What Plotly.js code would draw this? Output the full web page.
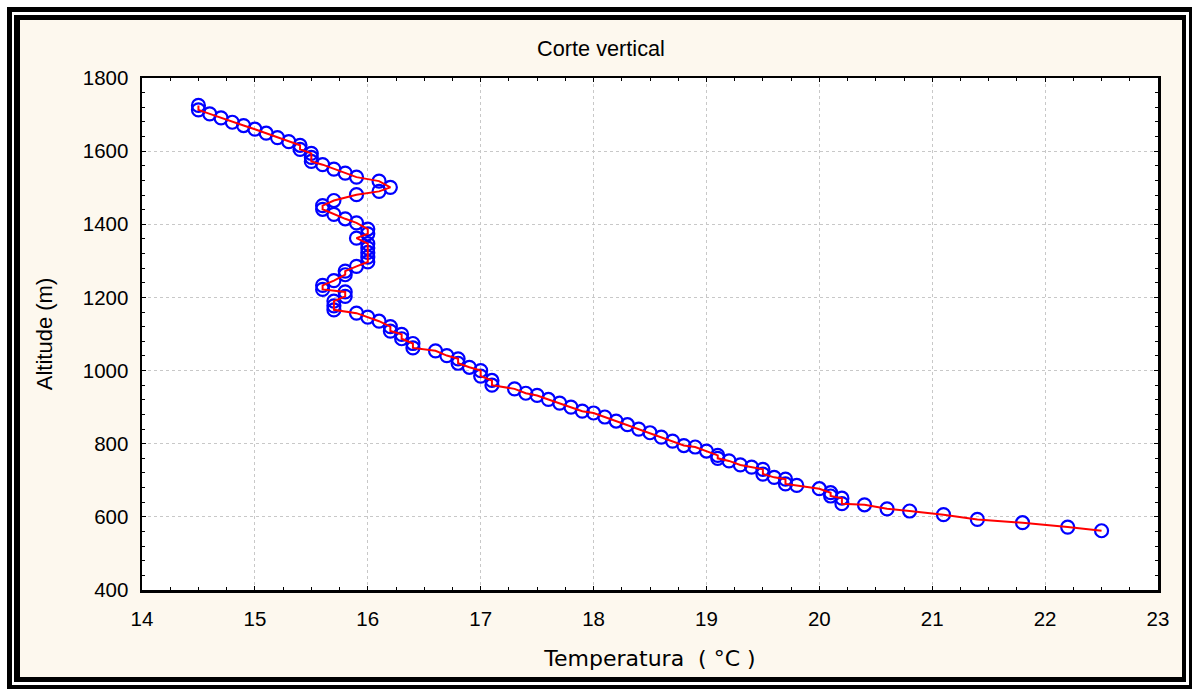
<!DOCTYPE html>
<html>
<head>
<meta charset="utf-8">
<script src="https://cdn.plot.ly/plotly-3.0.1.min.js"></script>
<style>
  html, body { margin: 0; padding: 0; background: #ffffff; width: 1192px; height: 689px; overflow: hidden; }
  #outer { position: absolute; left: 7px; top: 7px; width: 1185px; height: 682px; box-sizing: border-box;
           border-style: solid; border-color: #000; border-width: 5px 3px 4px 5px; background: #fff; }
  #inner { position: absolute; left: 14px; top: 15px; width: 1172px; height: 667px; box-sizing: border-box;
           border-style: solid; border-color: #000; border-width: 5px 4px 5px 6px; background: #fdf8ee; }
  #plot { position: absolute; left: 20px; top: 20px; width: 1162px; height: 657px; }
</style>
</head>
<body>
<div id="outer"></div>
<div id="inner"></div>
<div id="plot"></div>
<script>
// Temperature (°C), top of profile to bottom
const temperatura = [
  14.5, 14.5, 14.6, 14.7, 14.8, 14.9, 15.0, 15.1, 15.2, 15.3,
  15.4, 15.4, 15.5, 15.5, 15.5, 15.6, 15.7, 15.8, 15.9, 16.1,
  16.2, 16.1, 15.9, 15.7, 15.6, 15.6, 15.7, 15.8, 15.9, 16.0,
  16.0, 15.9, 16.0, 16.0, 16.0, 16.0, 16.0, 15.9, 15.8, 15.8,
  15.7, 15.6, 15.6, 15.8, 15.8, 15.7, 15.7, 15.7, 15.9, 16.0,
  16.1, 16.2, 16.2, 16.3, 16.3, 16.4, 16.4, 16.6, 16.7, 16.8,
  16.8, 16.9, 17.0, 17.0, 17.1, 17.1, 17.3, 17.4, 17.5, 17.6,
  17.7, 17.8, 17.9, 18.0, 18.1, 18.2, 18.3, 18.4, 18.5, 18.6,
  18.7, 18.8, 18.9, 19.0, 19.1, 19.1, 19.2, 19.3, 19.4, 19.5,
  19.5, 19.6, 19.7, 19.7, 19.8, 20.0, 20.1, 20.1, 20.2, 20.2,
  20.4, 20.6, 20.8, 21.1, 21.4, 21.8, 22.2, 22.5
];
// Altitude (m)
const altitude = [
  1725, 1713, 1702, 1691, 1679, 1670, 1660, 1649, 1637, 1626,
  1616, 1605, 1594, 1583, 1572, 1563, 1551, 1540, 1529, 1518,
  1501, 1490, 1481, 1465, 1451, 1441, 1427, 1415, 1404, 1387,
  1374, 1362, 1347, 1335, 1323, 1310, 1297, 1285, 1272, 1262,
  1246, 1233, 1222, 1215, 1203, 1190, 1177, 1166, 1157, 1146,
  1135, 1120, 1108, 1099, 1087, 1074, 1062, 1054, 1041, 1032,
  1020, 1009, 1000, 985, 973, 960, 950, 938, 932, 921,
  911, 900, 889, 884, 873, 862, 852, 840, 830, 818,
  807, 795, 791, 780, 768, 760, 753, 742, 736, 730,
  717, 708, 703, 690, 686, 677, 666, 657, 651, 636,
  633, 622, 616, 606, 593, 584, 572, 562
];
const xTickVals = [14, 15, 16, 17, 18, 19, 20, 21, 22, 23];
const yTickVals = [400, 600, 800, 1000, 1200, 1400, 1600, 1800];

const traces = [
  {
    x: temperatura, y: altitude, type: 'scatter', mode: 'markers',
    marker: { symbol: 'circle-open', size: 13, color: '#0000ff', line: { width: 2.2, color: '#0000ff' } },
    hoverinfo: 'skip', showlegend: false
  },
  {
    x: temperatura, y: altitude, type: 'scatter', mode: 'lines',
    line: { color: '#ff0000', width: 2 },
    hoverinfo: 'skip', showlegend: false
  }
];

const tickFont = { family: 'Liberation Sans, Arial, sans-serif', size: 20.5, color: '#000' };

const layout = {
  width: 1162, height: 657,
  margin: { l: 122, r: 24, t: 58, b: 87, pad: 0 },
  paper_bgcolor: '#fdf8ee',
  plot_bgcolor: '#ffffff',
  showlegend: false,
  title: {
    text: 'Corte vertical',
    font: { family: 'Liberation Sans, Arial, sans-serif', size: 21.7, color: '#000' },
    x: 0.5, xref: 'container', xanchor: 'center',
    y: 1 - 28 / 657, yref: 'container', yanchor: 'middle'
  },
  xaxis: {
    range: [14, 23], tickvals: xTickVals, ticktext: xTickVals.map(String),
    showline: true, linecolor: '#000', linewidth: 2.5, mirror: 'ticks',
    ticks: 'inside', ticklen: 4, tickwidth: 1, tickcolor: '#000',
    minor: { dtick: 0.25, tick0: 14, ticks: 'inside', ticklen: 3, tickwidth: 1, tickcolor: '#000', showgrid: false },
    showgrid: true, gridcolor: '#c8c8c8', griddash: 'dot', gridwidth: 1,
    zeroline: false,
    tickfont: tickFont, ticklabelstandoff: 9,
    title: { text: 'Temperatura\u00a0\u00a0(\u00a0°C\u00a0)', font: { family: 'DejaVu Sans, Verdana, sans-serif', size: 22, color: '#000' }, standoff: 22 }
  },
  yaxis: {
    range: [400, 1800], tickvals: yTickVals, ticktext: yTickVals.map(String),
    showline: true, linecolor: '#000', linewidth: 2.5, mirror: 'ticks',
    ticks: 'inside', ticklen: 4, tickwidth: 1, tickcolor: '#000',
    minor: { dtick: 40, tick0: 400, ticks: 'inside', ticklen: 3, tickwidth: 1, tickcolor: '#000', showgrid: false },
    showgrid: true, gridcolor: '#c8c8c8', griddash: 'dot', gridwidth: 1,
    zeroline: false,
    tickfont: tickFont, ticklabelstandoff: 7,
    title: { text: 'Altitude (m)', font: { family: 'Liberation Sans, Arial, sans-serif', size: 22, color: '#000' }, standoff: 24 }
  }
};

Plotly.newPlot('plot', traces, layout, { staticPlot: true, displayModeBar: false });
</script>
</body>
</html>
